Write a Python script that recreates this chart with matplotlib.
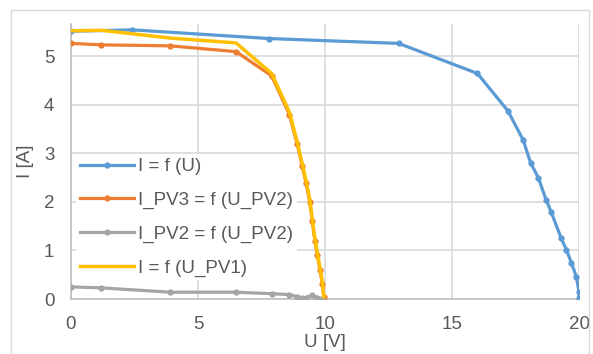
import matplotlib
matplotlib.use("Agg")
import matplotlib.pyplot as plt
from matplotlib.patches import Rectangle

plt.rcParams["font.family"] = ["Liberation Sans", "DejaVu Sans"]

# I = f(U)
u_main = [0, 2.4, 7.8, 12.9, 16.0, 17.2, 17.8, 18.1, 18.4, 18.7, 18.9, 19.3, 19.5, 19.7, 19.9, 20.0, 20.0]
i_main = [5.52, 5.55, 5.37, 5.27, 4.65, 3.88, 3.28, 2.8, 2.5, 2.05, 1.8, 1.25, 1.02, 0.75, 0.45, 0.15, 0.03]

# I_PV3 = f(U_PV2)
u_pv2 = [0, 1.2, 3.9, 6.5, 7.9, 8.6, 8.9, 9.1, 9.25, 9.4, 9.5, 9.6, 9.7, 9.8, 9.9, 9.95]
i_pv3 = [5.27, 5.24, 5.22, 5.1, 4.6, 3.8, 3.2, 2.75, 2.4, 2.0, 1.6, 1.2, 0.9, 0.6, 0.3, 0.05]

# I_PV2 = f(U_PV2)
u_pv2b = [0, 1.2, 3.9, 6.5, 7.9, 8.6, 8.9, 9.1, 9.25, 9.5, 9.7, 9.9]
i_pv2 = [0.25, 0.23, 0.14, 0.14, 0.11, 0.09, 0.05, 0.02, 0.03, 0.08, 0.03, 0.0]

# I = f(U_PV1)
u_pv1 = [0, 1.2, 3.9, 6.5, 7.9, 8.6, 8.9, 9.1, 9.25, 9.4, 9.5, 9.6, 9.7, 9.8, 9.9, 9.95]
i_pv1 = [5.53, 5.54, 5.38, 5.28, 4.65, 3.85, 3.25, 2.8, 2.45, 2.05, 1.65, 1.25, 0.95, 0.65, 0.33, 0.05]

grey = "#595959"
fig = plt.figure(figsize=(5.93, 3.54), dpi=100)
fig.patches.append(Rectangle((11 / 593, -0.1), 578 / 593, 1.1 - 10 / 354, transform=fig.transFigure,
                             fill=False, edgecolor="#d9d9d9", linewidth=1))
ax = fig.add_axes([71 / 593, 55 / 354, 508 / 593, 275 / 354])

ax.plot(u_main, i_main, color="#5b9bd5", lw=2.3, marker="o", ms=3.5, label="I = f (U)", zorder=3)
ax.plot(u_pv2, i_pv3, color="#ed7d31", lw=2.3, marker="o", ms=3.5, label="I_PV3 = f (U_PV2)", zorder=3)
ax.plot(u_pv2b, i_pv2, color="#a5a5a5", lw=2.3, marker="o", ms=3.5, label="I_PV2 = f (U_PV2)", zorder=3)
ax.plot(u_pv1, i_pv1, color="#ffc000", lw=2.5, label="I = f (U_PV1)", zorder=4)

ax.set_xlim(0, 20)
ax.set_ylim(0, 5.67)
ax.set_xticks([0, 5, 10, 15, 20])
ax.set_yticks([0, 1, 2, 3, 4, 5])
ax.grid(True, color="#d9d9d9", lw=1.2)
ax.set_axisbelow(True)
for s in ["top", "right"]:
    ax.spines[s].set_visible(False)
for s in ["left", "bottom"]:
    ax.spines[s].set_color("#bfbfbf")
    ax.spines[s].set_linewidth(1.2)
ax.tick_params(length=0, labelsize=13.5, labelcolor=grey, pad=12)
ax.set_xlabel("U [V]", fontsize=13.5, color=grey, labelpad=1)
ax.set_ylabel("I [A]", fontsize=13.5, color=grey, labelpad=7)

leg = ax.legend(loc="lower left", bbox_to_anchor=(0.01, 0.068), fontsize=13.5, frameon=True,
                framealpha=1, edgecolor="none", handlelength=2.9, handletextpad=0.2,
                labelspacing=0.88, borderaxespad=0, borderpad=0.2)
for t in leg.get_texts():
    t.set_color(grey)

fig.savefig("out.png", dpi=100)
